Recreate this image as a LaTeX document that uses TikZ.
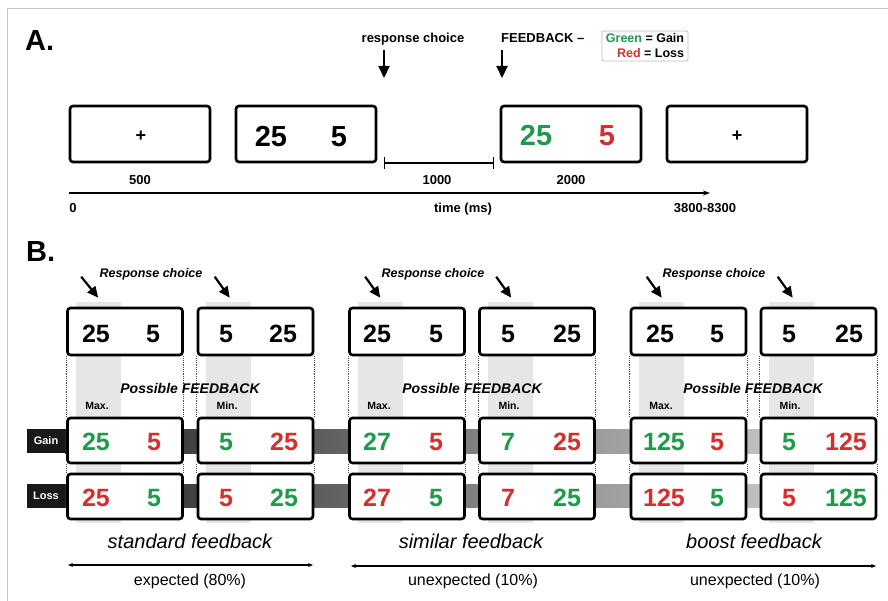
\documentclass[tikz,border=0pt]{standalone}
\usepackage{fontspec}
\setmainfont{Liberation Sans}
\usetikzlibrary{arrows.meta, positioning, calc}
\definecolor{gaingreen}{HTML}{1E9A4A}
\definecolor{lossred}{HTML}{D62E2E}
\definecolor{colgray}{HTML}{E6E6E6}
\definecolor{framegray}{HTML}{C4C4C4}
\definecolor{legendgray}{HTML}{BBBBBB}

\begin{document}
\begin{tikzpicture}[x=1pt, y=-1pt,
  trial/.style={draw, line width=2.6pt, rounded corners=3pt, fill=white, minimum width=140pt, minimum height=56pt, inner sep=0pt},
  choice/.style={trial, minimum width=115pt, minimum height=47pt},
  fb/.style={choice, minimum height=45pt},
  bignum/.style={anchor=base, inner sep=0pt, font=\bfseries\fontsize{29}{30}\selectfont},
  num/.style={anchor=base, inner sep=0pt, font=\bfseries\fontsize{25}{27}\selectfont},
  lbl/.style={anchor=base, inner sep=0pt, font=\bfseries\fontsize{13}{15}\selectfont},
  ilbl/.style={anchor=base, inner sep=0pt, font=\bfseries\itshape\fontsize{12.5}{14}\selectfont},
  small/.style={anchor=base, inner sep=0pt, font=\bfseries\fontsize{10.5}{12}\selectfont},
  cond/.style={anchor=base, inner sep=0pt, font=\itshape\fontsize{20}{22}\selectfont},
  prob/.style={anchor=base, inner sep=0pt, font=\fontsize{16}{18}\selectfont},
  tag/.style={fill=black!90, text=white, inner sep=0pt, minimum width=38pt, minimum height=24pt, font=\bfseries\fontsize{11}{12}\selectfont},
  bigarrow/.style={line width=2.2pt, -{Triangle[width=11pt, length=12pt]}},
  choicearrow/.style={line width=2.2pt, -{Triangle[width=10pt, length=11pt]}},
  axis/.style={line width=1.2pt, -{Stealth[width=5pt, length=7pt]}},
  span/.style={line width=1.2pt, {Stealth[width=4pt, length=5pt]}-{Stealth[width=4pt, length=5pt]}},
  guide/.style={densely dotted, line width=0.8pt, black!70}
]
\useasboundingbox (0,0) rectangle (888,601);
\draw[framegray, line width=1pt] (888,9) -- (7.5,9) -- (7.5,601);

% A. trial timeline
\node[anchor=base west, inner sep=0pt, font=\bfseries\fontsize{29}{30}\selectfont] (labA) at (25,51) {A.};
\node[trial] (fix1) at (140,134) {};
\node[trial] (offer) at (306,134) {};
\node[trial] (feedback) at (571,134) {};
\node[trial] (fix2) at (737,134) {};
\node[font=\bfseries\fontsize{18}{18}\selectfont, inner sep=0pt] (plus1) at (141,136) {+};
\node[font=\bfseries\fontsize{18}{18}\selectfont, inner sep=0pt] (plus2) at (737,136) {+};
\node[bignum] (offerL) at (271,147) {25}; \node[bignum] (offerR) at (339,147) {5};
\node[bignum, text=gaingreen] (fbL) at (536,146) {25}; \node[bignum, text=lossred] (fbR) at (607,146) {5};

\node[lbl] (resp) at (413,43) {response choice};
\coordinate (respTop) at (384,50); \coordinate (respTip) at (384,78);
\draw[bigarrow] (respTop) -- (respTip);
\node[lbl, anchor=base west] (fblabel) at (501,43) {FEEDBACK –};
\coordinate (fbTop) at (502,50); \coordinate (fbTip) at (502,78);
\draw[bigarrow] (fbTop) -- (fbTip);
\node[draw=legendgray, line width=0.8pt, rounded corners=2pt, align=right, inner xsep=4pt, inner ysep=3pt, font=\bfseries\fontsize{12.5}{15}\selectfont] (legend) at (645,46) {\textcolor{gaingreen}{Green} = Gain\\ \textcolor{lossred}{Red} = Loss};

\node[lbl] (d500) at (140,185) {500};
\node[lbl] (d1000) at (437,185) {1000};
\node[lbl] (d2000) at (571,185) {2000};
\coordinate (rt) at (384,163); \coordinate (ft) at (494,163);
\draw[line width=1.2pt, {Bar[width=12pt]}-{Bar[width=12pt]}] (rt) -- (ft);
\coordinate (t0) at (69,193); \coordinate (tEnd) at (710,193);
\draw[axis] (t0) -- (tEnd);
\node[lbl] (zero) at (73,213) {0};
\node[lbl] (tlab) at (463,213) {time (ms)};
\node[lbl] (tmax) at (705,213) {3800-8300};

% B. feedback conditions
\node[anchor=base west, inner sep=0pt, font=\bfseries\fontsize{29}{30}\selectfont] (labB) at (26,262) {B.};
\fill[colgray] (76,302) rectangle (121,523);
\fill[colgray] (206,302) rectangle (251,523);
\fill[colgray] (358,302) rectangle (403,523);
\fill[colgray] (488,302) rectangle (533,523);
\fill[colgray] (639,302) rectangle (684,523);
\fill[colgray] (769,302) rectangle (814,523);
\shade[left color=black!85, right color=black!20] (65,429) rectangle (818,453);
\shade[left color=black!85, right color=black!20] (65,484) rectangle (818,507);
\node[tag] (gain) at (46,441) {Gain};
\node[tag] (loss) at (46,495.5) {Loss};

\node[choice] (s1max) at (125,331.5) {};
\node[choice] (s1min) at (255.5,331.5) {};
\node[choice] (s2max) at (407,331.5) {};
\node[choice] (s2min) at (537,331.5) {};
\node[choice] (s3max) at (688.5,331.5) {};
\node[choice] (s3min) at (818.5,331.5) {};
\node[fb] (g1max) at (125,440.5) {};
\node[fb] (g1min) at (255.5,440.5) {};
\node[fb] (g2max) at (407,440.5) {};
\node[fb] (g2min) at (537,440.5) {};
\node[fb] (g3max) at (688.5,440.5) {};
\node[fb] (g3min) at (818.5,440.5) {};
\node[fb] (l1max) at (125,496.5) {};
\node[fb] (l1min) at (255.5,496.5) {};
\node[fb] (l2max) at (407,496.5) {};
\node[fb] (l2min) at (537,496.5) {};
\node[fb] (l3max) at (688.5,496.5) {};
\node[fb] (l3min) at (818.5,496.5) {};

\draw[guide] (s1max.south west) -- (g1max.north west) (s1max.south east) -- (g1max.north east) (g1max.south west) -- (l1max.north west) (g1max.south east) -- (l1max.north east);
\draw[guide] (s1min.south west) -- (g1min.north west) (s1min.south east) -- (g1min.north east) (g1min.south west) -- (l1min.north west) (g1min.south east) -- (l1min.north east);
\draw[guide] (s2max.south west) -- (g2max.north west) (s2max.south east) -- (g2max.north east) (g2max.south west) -- (l2max.north west) (g2max.south east) -- (l2max.north east);
\draw[guide] (s2min.south west) -- (g2min.north west) (s2min.south east) -- (g2min.north east) (g2min.south west) -- (l2min.north west) (g2min.south east) -- (l2min.north east);
\draw[guide] (s3max.south west) -- (g3max.north west) (s3max.south east) -- (g3max.north east) (g3max.south west) -- (l3max.north west) (g3max.south east) -- (l3max.north east);
\draw[guide] (s3min.south west) -- (g3min.north west) (s3min.south east) -- (g3min.north east) (g3min.south west) -- (l3min.north west) (g3min.south east) -- (l3min.north east);

% choice pairs
\node[num] (s1maxL) at (96,342) {25}; \node[num] (s1maxR) at (153,342) {5};
\node[num] (s1minL) at (226,342) {5}; \node[num] (s1minR) at (283,342) {25};
\node[num] (s2maxL) at (377,342) {25}; \node[num] (s2maxR) at (436,342) {5};
\node[num] (s2minL) at (508,342) {5}; \node[num] (s2minR) at (567,342) {25};
\node[num] (s3maxL) at (660,342) {25}; \node[num] (s3maxR) at (717,342) {5};
\node[num] (s3minL) at (789,342) {5}; \node[num] (s3minR) at (849,342) {25};

% gain row
\node[num, text=gaingreen] (g1maxL) at (96,450) {25}; \node[num, text=lossred] (g1maxR) at (154,450) {5};
\node[num, text=gaingreen] (g1minL) at (226,450) {5}; \node[num, text=lossred] (g1minR) at (284,450) {25};
\node[num, text=gaingreen] (g2maxL) at (377,450) {27}; \node[num, text=lossred] (g2maxR) at (436,450) {5};
\node[num, text=gaingreen] (g2minL) at (508,450) {7}; \node[num, text=lossred] (g2minR) at (567,450) {25};
\node[num, text=gaingreen] (g3maxL) at (664,450) {125}; \node[num, text=lossred] (g3maxR) at (717,450) {5};
\node[num, text=gaingreen] (g3minL) at (789,450) {5}; \node[num, text=lossred] (g3minR) at (846,450) {125};

% loss row
\node[num, text=lossred] (l1maxL) at (96,506) {25}; \node[num, text=gaingreen] (l1maxR) at (154,506) {5};
\node[num, text=lossred] (l1minL) at (226,506) {5}; \node[num, text=gaingreen] (l1minR) at (284,506) {25};
\node[num, text=lossred] (l2maxL) at (377,506) {27}; \node[num, text=gaingreen] (l2maxR) at (436,506) {5};
\node[num, text=lossred] (l2minL) at (508,506) {7}; \node[num, text=gaingreen] (l2minR) at (567,506) {25};
\node[num, text=lossred] (l3maxL) at (664,506) {125}; \node[num, text=gaingreen] (l3maxR) at (717,506) {5};
\node[num, text=lossred] (l3minL) at (789,506) {5}; \node[num, text=gaingreen] (l3minR) at (846,506) {125};

\node[ilbl] (rc1) at (151,278) {Response choice};
\node[ilbl] (rc2) at (433,278) {Response choice};
\node[ilbl] (rc3) at (714,278) {Response choice};
\draw[choicearrow] ($(s1max.north west)+(15,-30)$) -- ($(s1max.north west)+(32,-9)$);
\draw[choicearrow] ($(s1min.north west)+(18,-30)$) -- ($(s1min.north west)+(33,-9)$);
\draw[choicearrow] ($(s2max.north west)+(17,-30)$) -- ($(s2max.north west)+(32,-9)$);
\draw[choicearrow] ($(s2min.north west)+(18,-30)$) -- ($(s2min.north west)+(33,-9)$);
\draw[choicearrow] ($(s3max.north west)+(17,-30)$) -- ($(s3max.north west)+(32,-9)$);
\draw[choicearrow] ($(s3min.north west)+(18,-30)$) -- ($(s3min.north west)+(33,-9)$);

\node[ilbl, font=\bfseries\itshape\fontsize{14}{16}\selectfont] (pf1) at (190,393) {Possible FEEDBACK};
\node[ilbl, font=\bfseries\itshape\fontsize{14}{16}\selectfont] (pf2) at (472,393) {Possible FEEDBACK};
\node[ilbl, font=\bfseries\itshape\fontsize{14}{16}\selectfont] (pf3) at (753,393) {Possible FEEDBACK};
\node[small] (max1) at (97,409) {Max.}; \node[small] (min1) at (227,409) {Min.};
\node[small] (max2) at (379,409) {Max.}; \node[small] (min2) at (509,409) {Min.};
\node[small] (max3) at (661,409) {Max.}; \node[small] (min3) at (790,409) {Min.};

\node[cond] (std) at (190,548) {standard feedback};
\node[cond] (sim) at (471,548) {similar feedback};
\node[cond] (boost) at (754,548) {boost feedback};
\coordinate (e1) at (68,565); \coordinate (e2) at (313,565);
\coordinate (u1) at (351,566); \coordinate (u2) at (876,566);
\draw[span] (e1) -- (e2);
\draw[span] (u1) -- (u2);
\node[prob] (p80) at (190,585) {expected (80\%)};
\node[prob] (p10a) at (473,585) {unexpected (10\%)};
\node[prob] (p10b) at (755,585) {unexpected (10\%)};
\end{tikzpicture}
\end{document}
